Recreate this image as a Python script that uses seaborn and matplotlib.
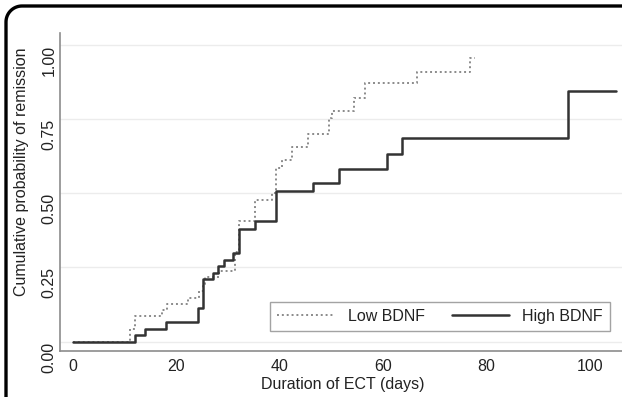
import matplotlib
matplotlib.use("Agg")
import matplotlib.pyplot as plt
from matplotlib.lines import Line2D
import numpy as np
import seaborn as sns
import pandas as pd

# ---- data ----
low_days = [0, 11.0, 12.0, 17.2, 18.1, 22.3, 24.3, 25.1, 25.6, 28.2, 31.3, 32.2,
            35.2, 38.4, 39.3, 40.4, 42.4, 45.5, 49.5, 50.0, 54.3, 56.5, 66.5, 76.7, 77.8]
low_prob = [0, 0.043, 0.086, 0.106, 0.126, 0.148, 0.171, 0.193, 0.216, 0.237, 0.30, 0.407,
            0.477, 0.50, 0.585, 0.61, 0.655, 0.70, 0.752, 0.778, 0.82, 0.87, 0.909, 0.954, 0.954]
high_days = [0, 12.0, 14.0, 18.0, 24.2, 25.1, 27.0, 28.0, 29.2, 31.0, 32.2, 35.2,
             39.3, 46.5, 51.5, 60.7, 63.7, 95.8, 105.0]
high_prob = [0, 0.023, 0.043, 0.065, 0.112, 0.21, 0.232, 0.254, 0.275, 0.297, 0.38, 0.405,
             0.507, 0.534, 0.58, 0.632, 0.686, 0.843, 0.843]
group_labels = ["Low BDNF", "High BDNF"]
x_ticks = [0, 20, 40, 60, 80, 100]
y_ticks = [0.00, 0.25, 0.50, 0.75, 1.00]
x_title = "Duration of ECT (days)"
y_title = "Cumulative probability of remission"

sns.set_theme(style="white")
plt.rcParams["font.family"] = ["Liberation Sans", "DejaVu Sans"]

W, H = 622, 397
fig = plt.figure(figsize=(W / 100, H / 100), dpi=100)
fig.patch.set_facecolor("white")

L, R, T, B = 60, 622, 33, 351
ax = fig.add_axes([L / W, (H - B) / H, (R - L) / W, (B - T) / H])

low_df = pd.DataFrame({"days": low_days, "prob": low_prob})
high_df = pd.DataFrame({"days": high_days, "prob": high_prob})

for yv in y_ticks:
    ax.axhline(yv, color="#ececec", lw=1.0, zorder=0)

sns.lineplot(data=low_df, x="days", y="prob", ax=ax, estimator=None, sort=False,
             drawstyle="steps-post", color="#8a8a8a", lw=1.4, linestyle=(0, (1, 1.5)),
             label=group_labels[0])
sns.lineplot(data=high_df, x="days", y="prob", ax=ax, estimator=None, sort=False,
             drawstyle="steps-post", color="#333333", lw=1.8, linestyle="-",
             label=group_labels[1])

px_per_day = 5.17
ax.set_xlim((L - 73) / px_per_day, (R - 73) / px_per_day)
ax.set_ylim((341.5 - B) / 296.8, (341.5 - T) / 296.8)
ax.set_xticks(x_ticks)
ax.set_yticks(y_ticks)
ax.set_yticklabels([f"{v:.2f}" for v in y_ticks])
ax.set_xticklabels([str(v) for v in x_ticks])

for s in ["top", "right"]:
    ax.spines[s].set_visible(False)
for s in ["left", "bottom"]:
    ax.spines[s].set_color("#8c8c8c")
    ax.spines[s].set_linewidth(1.2)

ax.tick_params(axis="both", which="major", direction="out", length=4, width=1.0,
               color="#8c8c8c", labelsize=11.5, labelcolor="#222222")
ax.tick_params(axis="y", pad=4)
ax.tick_params(axis="x", pad=1.5)
for lbl in ax.get_yticklabels():
    lbl.set_rotation(90)
    lbl.set_va("center")
    lbl.set_ha("right")
    lbl.set_rotation_mode("anchor")

ax.set_xlabel(x_title, fontsize=11.5, color="#222222")
ax.set_ylabel(y_title, fontsize=11.5, color="#222222")
ax.xaxis.label.set_va("center")
ax.yaxis.label.set_va("center")
ax.xaxis.set_label_coords((343 - L) / (R - L), (B - 385) / (B - T))
ax.yaxis.set_label_coords((22 - L) / (R - L), (B - 172) / (B - T))

leg = ax.legend(loc="lower right", bbox_to_anchor=((610 - L) / (R - L), (B - 331) / (B - T)),
                ncol=2, frameon=True, fancybox=False, fontsize=11.5,
                handlelength=3.6, columnspacing=1.7, handletextpad=0.8,
                borderpad=0.45, borderaxespad=0)
leg.get_frame().set_edgecolor("#8c8c8c")
leg.get_frame().set_linewidth(1.0)
for t in leg.get_texts():
    t.set_color("#222222")

# open frame (left edge, rounded top-left corner, top edge) in figure fractions
fx, fy, rr = 6.0, 6.0, 16.0
theta = np.linspace(np.pi, np.pi / 2, 20)
arc_x = (fx + rr) + rr * np.cos(theta)
arc_y = (fy + rr) - rr * np.sin(theta)
px = np.concatenate([[fx], arc_x, [W + 30]])
py = np.concatenate([[H + 30], arc_y, [fy]])
fig.lines.append(Line2D(px / W, 1 - py / H, transform=fig.transFigure, color="black",
                        lw=2.4, solid_capstyle="butt"))

fig.savefig("out.png", dpi=100)
